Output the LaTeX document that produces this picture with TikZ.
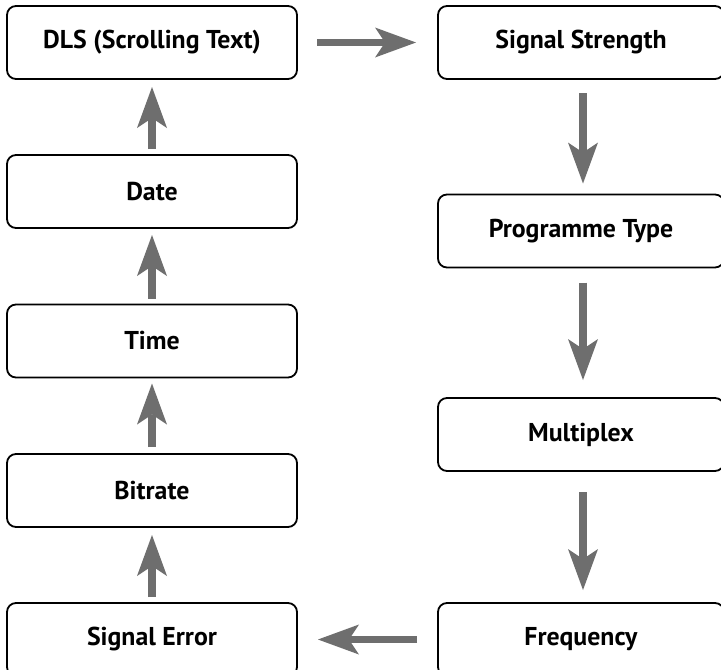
\documentclass[tikz,border=0pt]{standalone}
\usepackage{fontspec}
\setmainfont{PT Sans}
\usetikzlibrary{arrows.meta}
\definecolor{arrowgray}{RGB}{110,110,110}
\tikzset{
  box/.style={draw=black, line width=1.8pt, rounded corners=9pt, fill=white,
    minimum height=73pt, inner sep=0pt, outer sep=0pt,
    font=\bfseries\fontsize{25.8}{30}\selectfont},
  lbox/.style={box, minimum width=290pt},
  rbox/.style={box, minimum width=286pt},
  flow/.style={draw=arrowgray, line width=7.5pt,
    -{Stealth[length=41pt,width=30pt,inset=10pt,line width=0pt,fill=arrowgray]}}
}
\begin{document}
\begin{tikzpicture}[x=1pt,y=-1pt]
\clip (0,0) rectangle (721,670);
\fill[white] (0,0) rectangle (721,670);
% left column
\node[lbox] (dls) at (152,42.5) {DLS (Scrolling Text)};
\node[lbox] (date) at (152,191.5) {Date};
\node[lbox] (time) at (152,341) {Time};
\node[lbox] (bit) at (152,490.5) {Bitrate};
\node[lbox] (err) at (152,639.5) {Signal Error};
% right column
\node[rbox] (ss) at (581,42.5) {Signal Strength};
\node[rbox] (pt) at (581,231) {Programme Type};
\node[rbox] (mux) at (581,434.5) {Multiplex};
\node[rbox] (freq) at (581,639.5) {Frequency};
% connectors
\draw[flow, shorten <=20pt, shorten >=22pt] (dls.east) -- (dls.east -| ss.west);
\draw[flow, shorten <=14pt, shorten >=11pt] ([xshift=2pt]ss.south) -- ([xshift=2pt]ss.south |- pt.north);
\draw[flow, shorten <=15pt, shorten >=18pt] ([xshift=2pt]pt.south) -- ([xshift=2pt]pt.south |- mux.north);
\draw[flow, shorten <=21pt, shorten >=13pt] ([xshift=2pt]mux.south) -- ([xshift=2pt]mux.south |- freq.north);
\draw[flow, shorten <=21pt, shorten >=21pt] (freq.west) -- (freq.west -| err.east);
\draw[flow, shorten <=6pt, shorten >=8pt] (err.north) -- (bit.south);
\draw[flow, shorten <=7pt, shorten >=6pt] (bit.north) -- (time.south);
\draw[flow, shorten <=6pt, shorten >=7pt] (time.north) -- (date.south);
\draw[flow, shorten <=6pt, shorten >=8pt] (date.north) -- (dls.south);
\end{tikzpicture}
\end{document}
